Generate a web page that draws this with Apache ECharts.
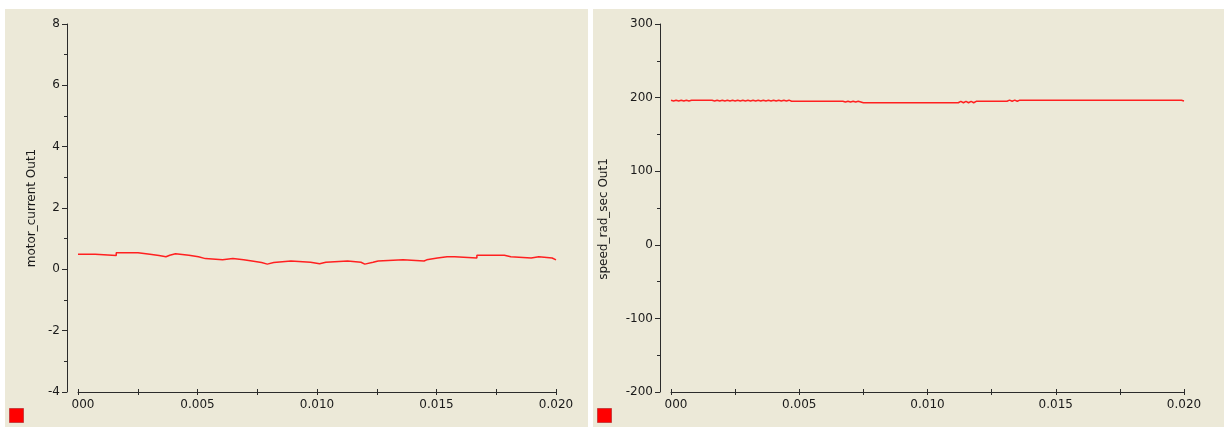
<!DOCTYPE html>
<html>
<head>
<meta charset="utf-8">
<script src="https://cdn.jsdelivr.net/npm/echarts@6/dist/echarts.min.js"></script>
<style>
html,body{margin:0;padding:0;background:#fff;}
#c{width:1224px;height:427px;}
</style>
</head>
<body>
<div id="c"></div>
<script>
// ---- data ----
const leftYName = 'motor_current Out1';
const rightYName = 'speed_rad_sec Out1';

const currentTime = [0, 0.00072, 0.0016, 0.00251, 0.00301, 0.00339, 0.00368, 0.00384, 0.00408, 0.00464,
  0.00504, 0.00533, 0.00605, 0.00648, 0.00693, 0.00728, 0.00768, 0.00792, 0.00819, 0.00891,
  0.00973, 0.01011, 0.01037, 0.01128, 0.01184, 0.012, 0.01235, 0.01256, 0.0136, 0.01448,
  0.01459, 0.01504, 0.01544, 0.01549, 0.01576, 0.01669, 0.01784, 0.01811, 0.01896, 0.01928,
  0.01984, 0.02];
const currentValue = [0.49, 0.45, 0.54, 0.49, 0.45, 0.41, 0.46, 0.51, 0.46, 0.41,
  0.35, 0.31, 0.35, 0.31, 0.27, 0.22, 0.17, 0.22, 0.27, 0.23,
  0.18, 0.23, 0.27, 0.23, 0.17, 0.23, 0.27, 0.31, 0.27, 0.31,
  0.37, 0.41, 0.37, 0.41, 0.37, 0.46, 0.41, 0.37, 0.41, 0.37,
  0.31, 0.31];

const speedTime = [0, 0.0001, 0.0002, 0.0003, 0.0004, 0.0005, 0.0006, 0.0007, 0.0008, 0.0016,
  0.0017, 0.0018, 0.0019, 0.0020, 0.0021, 0.0022, 0.0023, 0.0024, 0.0025, 0.0026,
  0.0027, 0.0028, 0.0029, 0.0030, 0.0031, 0.0032, 0.0033, 0.0034, 0.0035, 0.0036,
  0.0037, 0.0038, 0.0039, 0.0040, 0.0041, 0.0042, 0.0043, 0.0044, 0.0045, 0.0046,
  0.0047, 0.0057, 0.00575, 0.0058, 0.0062, 0.00625, 0.0063, 0.0067, 0.0068, 0.0069,
  0.0070, 0.0071, 0.0072, 0.0073, 0.0074, 0.0075, 0.0112, 0.0113, 0.0114, 0.0115,
  0.0116, 0.0117, 0.0118, 0.0119, 0.0131, 0.0132, 0.0133, 0.0134, 0.0135, 0.0136,
  0.0137, 0.0199, 0.02];
const speedValue = [196.5, 195.5, 196.5, 195.5, 196.5, 195.5, 196.5, 195.5, 196.5, 196.5,
  195.5, 196.5, 195.5, 196.5, 195.5, 196.5, 195.5, 196.5, 195.5, 196.5,
  195.5, 196.5, 195.5, 196.5, 195.5, 196.5, 195.5, 196.5, 195.5, 196.5,
  195.5, 196.5, 195.5, 196.5, 195.5, 196.5, 195.5, 196.5, 195.5, 196.5,
  195, 195, 194, 195, 195, 194, 195, 195, 194, 195,
  194, 195, 194, 195, 194, 193, 193, 195, 193, 195,
  193, 195, 193, 195, 195, 196.5, 195, 196.5, 195, 196.5,
  196.5, 196.5, 195.5];

const xMin = 0, xMax = 0.02, xInterval = 0.0025;
const leftYMin = -4, leftYMax = 8, leftYInterval = 2;
const rightYMin = -200, rightYMax = 300, rightYInterval = 100;

// ---- chart ----
const FONT = 'DejaVu Sans';
const TXT = '#1a1a1a';
const AX = '#2b2b2b';

function xLabel(v) {
  const k = Math.round(v / xInterval);
  if (k % 2 !== 0) return '';
  if (k === 0) return '{z|000}';
  return v.toFixed(3);
}

function mainX(gridIndex) {
  return {
    type: 'value', gridIndex, min: xMin, max: xMax, interval: xInterval, position: 'bottom',
    axisLine: {show: true, onZero: false, lineStyle: {color: AX, width: 1}},
    axisTick: {show: true, length: 3, lineStyle: {color: AX}},
    axisLabel: {show: true, formatter: xLabel, color: TXT, fontFamily: FONT, fontSize: 12, margin: 7,
      rich: {z: {color: TXT, fontFamily: FONT, fontSize: 12, padding: [0, 0, 0, 10]}}},
    splitLine: {show: false}
  };
}
function innerX(gridIndex) {
  return {
    type: 'value', gridIndex, min: xMin, max: xMax, interval: xInterval, position: 'bottom',
    axisLine: {show: false, onZero: false},
    axisTick: {show: true, inside: true, length: 3, lineStyle: {color: AX}},
    axisLabel: {show: false},
    splitLine: {show: false}
  };
}
function mainY(gridIndex, min, max, interval, name, nameGap, namePad) {
  return {
    type: 'value', gridIndex, min, max, interval, offset: 11, position: 'left',
    name, nameLocation: 'middle', nameGap,
    nameTextStyle: {color: TXT, fontFamily: FONT, fontSize: 12, padding: namePad},
    axisLine: {show: true, onZero: false, lineStyle: {color: AX, width: 1}},
    axisTick: {show: true, length: 5, lineStyle: {color: AX}},
    minorTick: {show: true, splitNumber: 2, length: 3, lineStyle: {color: AX}},
    axisLabel: {color: TXT, fontFamily: FONT, fontSize: 12, margin: 7},
    splitLine: {show: false}, minorSplitLine: {show: false}
  };
}

const chart = echarts.init(document.getElementById('c'), null, {renderer: 'canvas'});
chart.setOption({
  animation: false,
  backgroundColor: '#ffffff',
  graphic: [
    {type: 'rect', z: -100, shape: {x: 5, y: 9, width: 583, height: 418}, style: {fill: '#ECE9D8'}},
    {type: 'rect', z: -100, shape: {x: 593, y: 9, width: 631, height: 418}, style: {fill: '#ECE9D8'}},
    {type: 'rect', z: 100, shape: {x: 9.5, y: 408.5, width: 14, height: 14}, style: {fill: '#ff0000', stroke: '#c84040', lineWidth: 1}},
    {type: 'rect', z: 100, shape: {x: 597.5, y: 408.5, width: 14, height: 14}, style: {fill: '#ff0000', stroke: '#c84040', lineWidth: 1}}
  ],
  grid: [
    {left: 78, right: 1224 - 556, top: 24, bottom: 35, containLabel: false},
    {left: 671, right: 1224 - 1184, top: 24, bottom: 35, containLabel: false}
  ],
  xAxis: [mainX(0), innerX(0), mainX(1), innerX(1)],
  yAxis: [
    mainY(0, leftYMin, leftYMax, leftYInterval, leftYName, 29, [0, 0, 0, 0]),
    mainY(1, rightYMin, rightYMax, rightYInterval, rightYName, 50, [0, 22, 0, 0])
  ],
  series: [
    {
      type: 'line', xAxisIndex: 0, yAxisIndex: 0, step: 'end', showSymbol: false,
      lineStyle: {color: '#ff2020', width: 1.5}, itemStyle: {color: '#ff2020'},
      data: currentTime.map((t, i) => [t, currentValue[i]])
    },
    {
      type: 'line', xAxisIndex: 2, yAxisIndex: 1, showSymbol: false,
      lineStyle: {color: '#ff2020', width: 1.5}, itemStyle: {color: '#ff2020'},
      data: speedTime.map((t, i) => [t, speedValue[i]])
    }
  ]
});
</script>
</body>
</html>
